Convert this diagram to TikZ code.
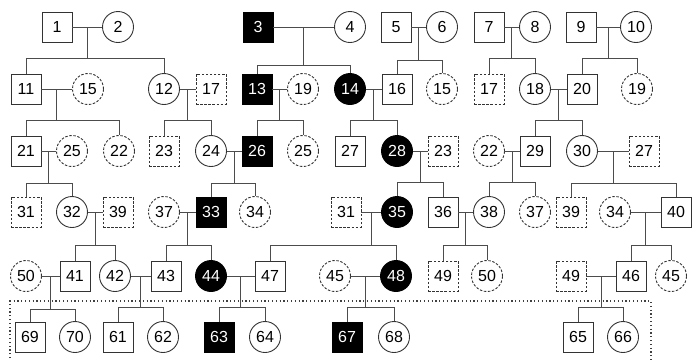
\documentclass[tikz,border=0pt]{standalone}
\usepackage{fontspec}
\setmainfont{Liberation Sans}
\usetikzlibrary{calc}

\begin{document}
\begin{tikzpicture}[
  x=1pt, y=-1pt,
  every node/.style={font=\fontsize{16}{16}\selectfont, inner sep=0pt},
  male/.style={draw=black!80, line width=0.9pt, minimum size=30pt},
  female/.style={circle, draw=black!80, line width=0.9pt, minimum size=31pt},
  maleill/.style={male, fill=black, draw=black, text=white},
  femaleill/.style={female, fill=black, draw=black, text=white},
  maleout/.style={male, dash pattern=on 2.5pt off 1.6pt},
  femaleout/.style={female, dash pattern=on 2.5pt off 1.6pt},
  link/.style={draw=black!70, line width=0.8pt},
]
  \useasboundingbox (0,0) rectangle (700,360);

  \node[male]      (n1)  at (57,27)  {1};
  \node[female]    (n2)  at (118,27) {2};
  \node[maleill]   (n3)  at (258,27) {3};
  \node[female]    (n4)  at (350,27) {4};
  \node[male]      (n5)  at (396,27) {5};
  \node[female]    (n6)  at (442,27) {6};
  \node[male]      (n7)  at (489,27) {7};
  \node[female]    (n8)  at (535,27) {8};
  \node[male]      (n9)  at (581,27) {9};
  \node[female]    (n10) at (636,27) {10};

  \node[male]      (n11)  at (26,89)  {11};
  \node[femaleout] (n15a) at (88,89)  {15};
  \node[female]    (n12)  at (164,89) {12};
  \node[maleout]   (n17a) at (211,89) {17};
  \node[maleill]   (n13)  at (257,89) {13};
  \node[femaleout] (n19a) at (303,89) {19};
  \node[femaleill] (n14)  at (350,89) {14};
  \node[male]      (n16)  at (397,89) {16};
  \node[femaleout] (n15b) at (442,89) {15};
  \node[maleout]   (n17b) at (489,89) {17};
  \node[female]    (n18)  at (535,89) {18};
  \node[male]      (n20)  at (582,89) {20};
  \node[femaleout] (n19b) at (637,89) {19};

  \node[male]      (n21)  at (26,151)  {21};
  \node[femaleout] (n25a) at (72,151)  {25};
  \node[femaleout] (n22a) at (119,151) {22};
  \node[maleout]   (n23a) at (164,151) {23};
  \node[female]    (n24)  at (211,151) {24};
  \node[maleill]   (n26)  at (257,151) {26};
  \node[femaleout] (n25b) at (303,151) {25};
  \node[male]      (n27a) at (350,151) {27};
  \node[femaleill] (n28)  at (397,151) {28};
  \node[maleout]   (n23b) at (443,151) {23};
  \node[femaleout] (n22b) at (489,151) {22};
  \node[male]      (n29)  at (535,151) {29};
  \node[female]    (n30)  at (582,151) {30};
  \node[maleout]   (n27b) at (644,151) {27};

  \node[maleout]   (n31a) at (26,212)  {31};
  \node[female]    (n32)  at (72,212)  {32};
  \node[maleout]   (n39a) at (118,212) {39};
  \node[femaleout] (n37a) at (164,212) {37};
  \node[maleill]   (n33)  at (211,212) {33};
  \node[femaleout] (n34a) at (255,212) {34};
  \node[maleout]   (n31b) at (346,212) {31};
  \node[femaleill] (n35)  at (397,212) {35};
  \node[male]      (n36)  at (443,212) {36};
  \node[female]    (n38)  at (489,212) {38};
  \node[femaleout] (n37b) at (535,212) {37};
  \node[maleout]   (n39b) at (571,212) {39};
  \node[femaleout] (n34b) at (615,212) {34};
  \node[male]      (n40)  at (676,212) {40};

  \node[femaleout] (n50a) at (26,276)  {50};
  \node[male]      (n41)  at (75,276)  {41};
  \node[female]    (n42)  at (115,276) {42};
  \node[male]      (n43)  at (166,276) {43};
  \node[femaleill] (n44)  at (211,276) {44};
  \node[male]      (n47)  at (270,276) {47};
  \node[femaleout] (n45a) at (335,276) {45};
  \node[femaleill] (n48)  at (396,276) {48};
  \node[maleout]   (n49a) at (443,276) {49};
  \node[femaleout] (n50b) at (487,276) {50};
  \node[maleout]   (n49b) at (571,276) {49};
  \node[male]      (n46)  at (631,276) {46};
  \node[femaleout] (n45b) at (671,276) {45};

  \node[male]      (n69) at (30,337)  {69};
  \node[female]    (n70) at (75,337)  {70};
  \node[male]      (n61) at (118,337) {61};
  \node[female]    (n62) at (163,337) {62};
  \node[maleill]   (n63) at (219,337) {63};
  \node[female]    (n64) at (265,337) {64};
  \node[maleill]   (n67) at (347,337) {67};
  \node[female]    (n68) at (394,337) {68};
  \node[male]      (n65) at (578,337) {65};
  \node[female]    (n66) at (623,337) {66};

  \foreach \pa/\pb/\ca/\cb/\sy in {
      n1/n2/n11/n12/58, n3/n4/n13/n14/65, n5/n6/n16/n15b/60,
      n7/n8/n17b/n18/58, n9/n10/n20/n19b/58,
      n11/n15a/n21/n22a/120, n12/n17a/n23a/n24/120, n13/n19a/n26/n25b/120,
      n14/n16/n27a/n28/120, n18/n20/n29/n30/120,
      n21/n25a/n31a/n32/183, n24/n26/n33/n34a/183, n28/n23b/n35/n36/182,
      n22b/n29/n38/n37b/182, n30/n27b/n39b/n40/183,
      n32/n39a/n41/n42/245, n37a/n33/n43/n44/245, n31b/n35/n47/n48/245,
      n36/n38/n49a/n50b/245, n34b/n40/n46/n45b/245,
      n50a/n41/n69/n70/309, n42/n43/n61/n62/307, n44/n47/n63/n64/307,
      n45a/n48/n67/n68/307, n49b/n46/n65/n66/307} {
    \draw[link] (\pa) -- (\pb);
    \coordinate (m) at ($(\pa.east)!0.5!(\pb.west)$);
    \coordinate (s) at (0,\sy);
    \draw[link] (m) -- (m |- s);
    \draw[link] (\ca.north) -- (\ca.north |- s) -| (\cb.north);
  }

  \draw[black!75, line width=1.2pt, dash pattern=on 1.2pt off 2.6pt]
    (10,362) -- (10,301) -- (651,301) -- (651,362);
\end{tikzpicture}
\end{document}
